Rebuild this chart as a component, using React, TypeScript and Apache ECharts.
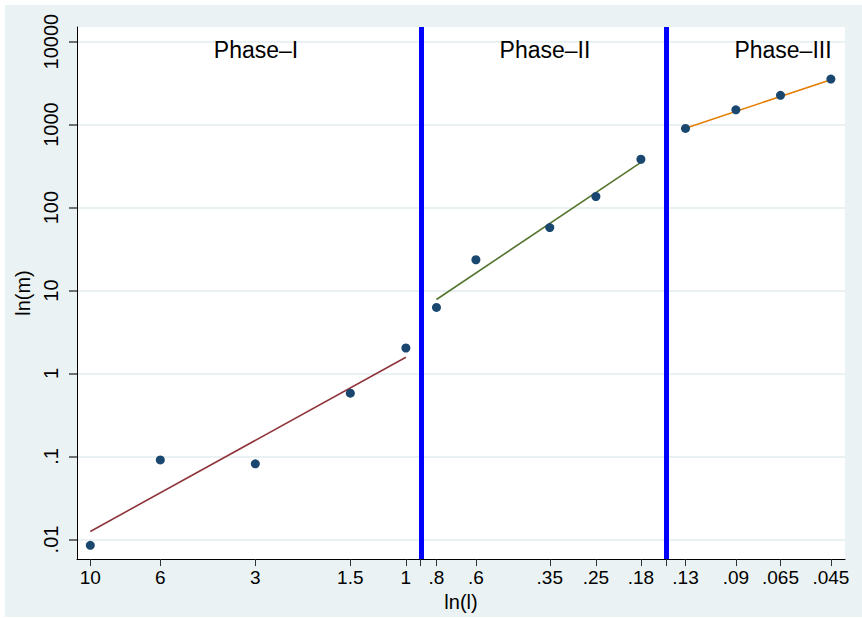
import React, { useEffect, useRef } from "react";
import * as echarts from "echarts";

// ---- data ----
const phaseIL = [10, 6, 3, 1.5, 1];
const phaseIM = [0.0085, 0.091, 0.0815, 0.58, 2.03];
const phaseIIL = [0.8, 0.6, 0.35, 0.25, 0.18];
const phaseIIM = [6.25, 23.5, 57.4, 136, 382];
const phaseIIIL = [0.13, 0.09, 0.065, 0.045];
const phaseIIIM = [899, 1506, 2254, 3541];

// fitted line end points [l, m]
const fitI = [[10, 0.0125], [1, 1.57]];
const fitII = [[0.8, 7.8], [0.18, 350]];
const fitIII = [[0.13, 905], [0.045, 3480]];

const phaseBreaks = [0.9, 0.15];
const phaseNames = ["Phase\u2013I", "Phase\u2013II", "Phase\u2013III"];

const xTickL = [10, 6, 3, 1.5, 1, 0.9, 0.8, 0.6, 0.35, 0.25, 0.18, 0.15, 0.13, 0.09, 0.065, 0.045];
const xLabelL = [10, 6, 3, 1.5, 1, 0.8, 0.6, 0.35, 0.25, 0.18, 0.13, 0.09, 0.065, 0.045];
const xLabelText = ["10", "6", "3", "1.5", "1", ".8", ".6", ".35", ".25", ".18", ".13", ".09", ".065", ".045"];
const yTickM = [0.01, 0.1, 1, 10, 100, 1000, 10000];
const yLabelText = [".01", ".1", "1", "10", "100", "1000", "10000"];

const xRangeL = [0.0406, 11.02];
const yRangeM = [0.0058, 15000];

const NAVY = "#1A476F";
const FONT = "'Liberation Sans', Arial, Helvetica, sans-serif";

const toXY = (ls: number[], ms: number[]) => ls.map((l, i) => [Math.log(l), Math.log10(ms[i])]);
const fitXY = (pts: number[][]) => pts.map(([l, m]) => [Math.log(l), Math.log10(m)]);

function nearestLabel(v: number, vals: number[], texts: string[]) {
  let best = 0;
  let bd = Infinity;
  vals.forEach((x, i) => {
    const d = Math.abs(x - v);
    if (d < bd) { bd = d; best = i; }
  });
  return bd < 1e-6 ? texts[best] : "";
}

export default function App() {
  const ref = useRef<HTMLDivElement>(null);
  useEffect(() => {
    if (!ref.current) return;
    const chart = echarts.init(ref.current, undefined, { renderer: "svg" });
    const xLabelLn = xLabelL.map((l) => Math.log(l));
    const yLabelLg = yTickM.map((m) => Math.log10(m));
    const points = [
      ...toXY(phaseIL, phaseIM),
      ...toXY(phaseIIL, phaseIIM),
      ...toXY(phaseIIIL, phaseIIIM),
    ];
    const labelPos = [251, 540, 778];
    chart.setOption({
      animation: false,
      backgroundColor: "#EAF2F3",
      textStyle: { fontFamily: FONT },
      grid: {
        left: 70,
        right: 17,
        top: 22,
        bottom: 55,
        show: true,
        backgroundColor: "#FFFFFF",
        borderWidth: 0,
      },
      xAxis: {
        type: "value",
        inverse: true,
        min: Math.log(xRangeL[0]),
        max: Math.log(xRangeL[1]),
        name: "ln(l)",
        nameLocation: "middle",
        nameGap: 29,
        nameTextStyle: { fontSize: 20, color: "#000", fontFamily: FONT },
        axisLine: { show: true, onZero: false, lineStyle: { color: "#000", width: 1 } },
        axisTick: {
          show: true,
          length: 7,
          customValues: xTickL.map((l) => Math.log(l)),
          lineStyle: { color: "#333", width: 1 },
        },
        axisLabel: {
          customValues: xLabelLn,
          formatter: (v: number) => nearestLabel(v, xLabelLn, xLabelText),
          fontSize: 19,
          color: "#000",
          margin: 9,
          fontFamily: FONT,
        },
        splitLine: { show: false },
      },
      yAxis: {
        type: "value",
        min: Math.log10(yRangeM[0]),
        max: Math.log10(yRangeM[1]),
        name: "ln(m)",
        nameLocation: "middle",
        nameGap: 44,
        nameTextStyle: { fontSize: 20, color: "#000", fontFamily: FONT },
        axisLine: { show: true, onZero: false, lineStyle: { color: "#000", width: 1 } },
        axisTick: {
          show: true,
          length: 8,
          customValues: yLabelLg,
          lineStyle: { color: "#444", width: 1.5 },
        },
        axisLabel: {
          customValues: yLabelLg,
          formatter: (v: number) => nearestLabel(v, yLabelLg, yLabelText),
          rotate: 90,
          fontSize: 20,
          color: "#000",
          margin: 16,
          fontFamily: FONT,
        },
        splitLine: { show: true, lineStyle: { color: "#E3ECEE", width: 1.5 } },
      },
      graphic: phaseNames.map((t, i) => ({
        type: "text",
        x: labelPos[i],
        y: 45,
        z: 100,
        style: {
          text: t,
          fontSize: 23,
          fontFamily: FONT,
          fill: "#000",
          align: "center",
          verticalAlign: "middle",
        },
      })),
      series: [
        {
          type: "line",
          data: fitXY(fitI),
          showSymbol: false,
          symbol: "none",
          lineStyle: { color: "#90353B", width: 1.6 },
          z: 3,
        },
        {
          type: "line",
          data: fitXY(fitII),
          showSymbol: false,
          symbol: "none",
          lineStyle: { color: "#55752F", width: 1.6 },
          z: 3,
        },
        {
          type: "line",
          data: fitXY(fitIII),
          showSymbol: false,
          symbol: "none",
          lineStyle: { color: "#E37E00", width: 1.6 },
          z: 3,
        },
        {
          type: "scatter",
          data: points,
          symbol: "circle",
          symbolSize: 9,
          itemStyle: { color: NAVY, opacity: 1 },
          z: 5,
          markLine: {
            silent: true,
            symbol: ["none", "none"],
            label: { show: false },
            lineStyle: { color: "#0000FF", width: 5, type: "solid" },
            emphasis: { disabled: true },
            data: phaseBreaks.map((b) => ({ xAxis: Math.log(b) })),
          },
        },
      ],
    });
    return () => chart.dispose();
  }, []);
  return (
    <div
      ref={ref}
      style={{ position: "absolute", left: 5, top: 5, width: 857, height: 612 }}
    />
  );
}
